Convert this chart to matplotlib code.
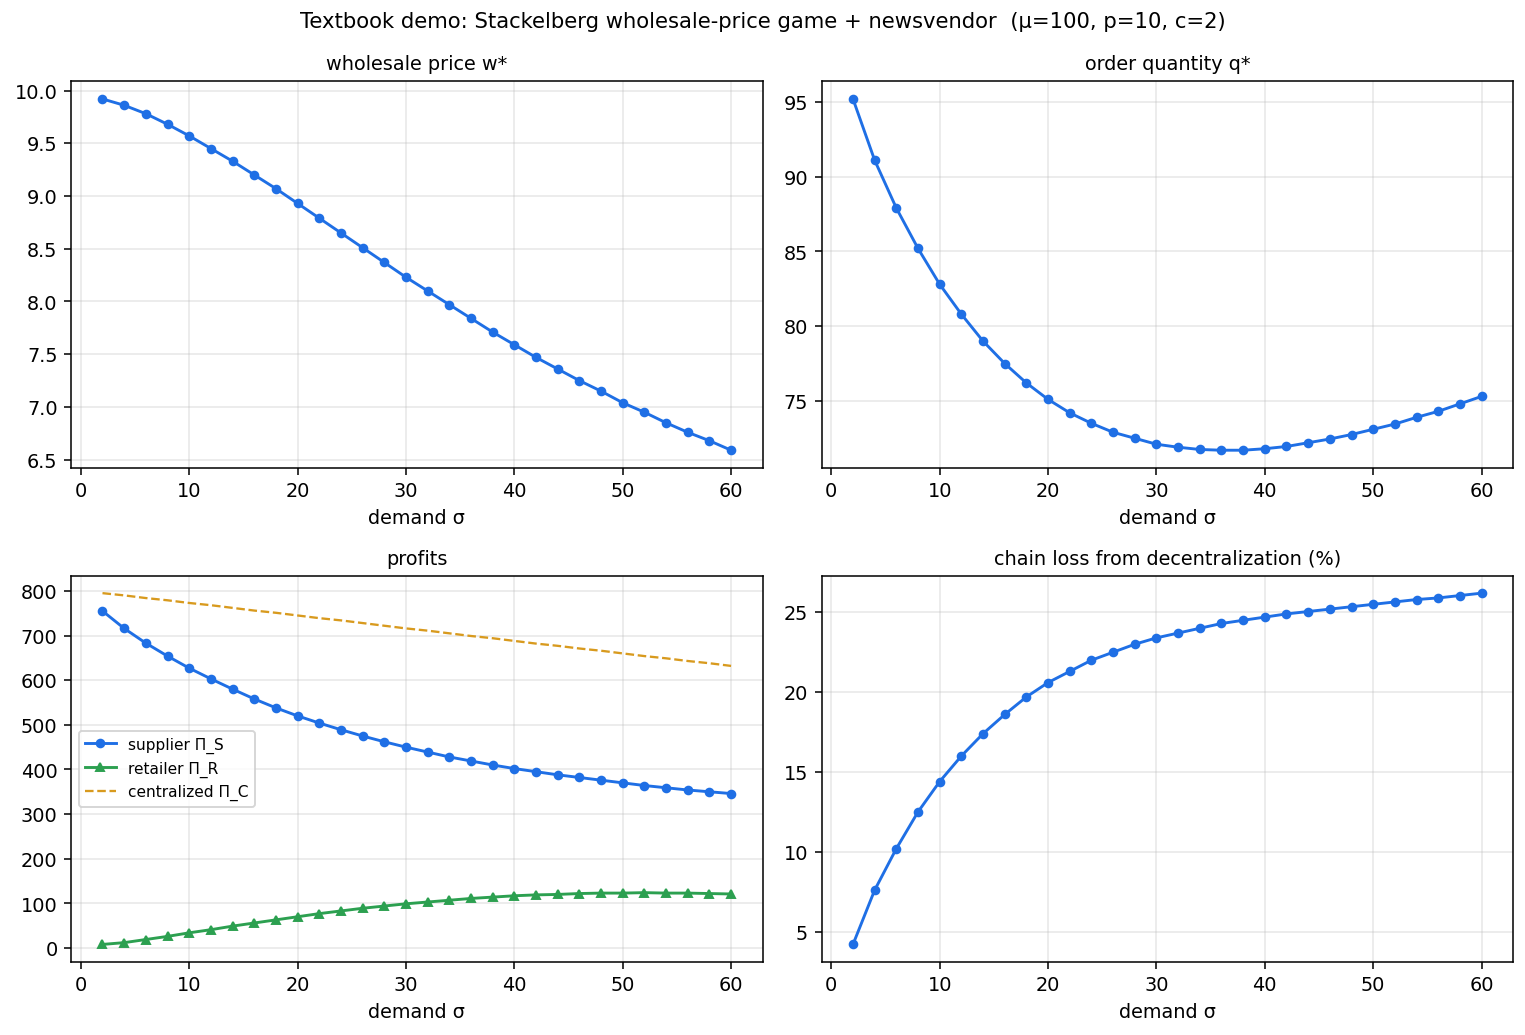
import numpy as np
import matplotlib.pyplot as plt
from matplotlib.ticker import MultipleLocator

sigma = list(range(2, 61, 2))

w_star = [9.92, 9.86, 9.78, 9.68, 9.57, 9.45, 9.33, 9.20, 9.07, 8.93,
          8.79, 8.65, 8.51, 8.37, 8.23, 8.10, 7.97, 7.84, 7.71, 7.59,
          7.47, 7.36, 7.25, 7.15, 7.04, 6.95, 6.85, 6.76, 6.68, 6.59]

q_star = [95.2, 91.1, 87.9, 85.2, 82.8, 80.8, 79.0, 77.5, 76.2, 75.1,
          74.2, 73.5, 72.9, 72.5, 72.1, 71.9, 71.75, 71.7, 71.7, 71.8,
          71.95, 72.2, 72.45, 72.75, 73.1, 73.45, 73.9, 74.3, 74.8, 75.3]

profit_s = [755, 716, 683, 654, 627, 603, 580, 558, 538, 520,
            504, 489, 475, 462, 450, 439, 428, 419, 410, 402,
            395, 388, 382, 376, 370, 364, 359, 354, 350, 346]

profit_r = [8, 12, 19, 26, 34, 41, 49, 56, 63, 70,
            77, 83, 89, 94, 99, 103, 107, 111, 114, 117,
            119, 120, 122, 123, 123, 124, 123, 123, 122, 121]

profit_c = [795, 790, 784, 779, 773, 768, 762, 756, 751, 745,
            739, 734, 728, 722, 716, 711, 705, 699, 694, 688,
            682, 677, 671, 666, 660, 654, 649, 643, 638, 632]

chain_loss = [4.2, 7.6, 10.2, 12.5, 14.4, 16.0, 17.4, 18.6, 19.7, 20.6,
              21.3, 22.0, 22.5, 23.0, 23.4, 23.7, 24.0, 24.3, 24.5, 24.7,
              24.9, 25.05, 25.2, 25.35, 25.5, 25.65, 25.8, 25.9, 26.05, 26.2]

blue = '#1f6fe5'
green = '#2ca050'
gold = '#d89a1e'

fig, axs = plt.subplots(2, 2, figsize=(11, 7.47), dpi=138.64)
fig.suptitle('Textbook demo: Stackelberg wholesale-price game + newsvendor  (μ=100, p=10, c=2)',
             fontsize=11, y=0.988)

ax = axs[0, 0]
ax.plot(sigma, w_star, marker='o', markersize=4, color=blue)
ax.set_title('wholesale price w*', fontsize=10)

ax = axs[0, 1]
ax.plot(sigma, q_star, marker='o', markersize=4, color=blue)
ax.set_title('order quantity q*', fontsize=10)

ax = axs[1, 0]
ax.plot(sigma, profit_s, marker='o', markersize=4, color=blue, label='supplier Π_S')
ax.plot(sigma, profit_r, marker='^', markersize=4, color=green, label='retailer Π_R')
ax.plot(sigma, profit_c, linestyle='--', linewidth=1.2, color=gold, label='centralized Π_C')
ax.set_title('profits', fontsize=10)
ax.yaxis.set_major_locator(MultipleLocator(100))
ax.legend(fontsize=8, loc='center left')

ax = axs[1, 1]
ax.plot(sigma, chain_loss, marker='o', markersize=4, color=blue)
ax.set_title('chain loss from decentralization (%)', fontsize=10)

for ax in axs.flat:
    ax.set_xlabel('demand σ')
    ax.grid(alpha=0.3)

fig.subplots_adjust(left=0.0466, right=0.9921, top=0.9208, bottom=0.0705,
                    wspace=0.0854, hspace=0.279)
fig.savefig('out.png')
